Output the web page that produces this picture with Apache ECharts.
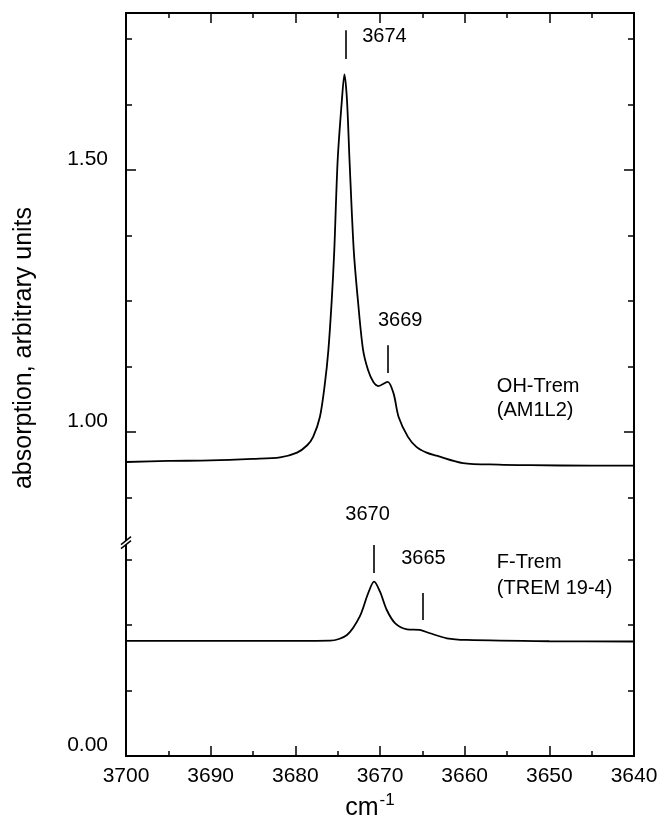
<!DOCTYPE html>
<html><head><meta charset="utf-8">
<script src="https://cdn.jsdelivr.net/npm/echarts@6/dist/echarts.min.js"></script>
<style>html,body{margin:0;padding:0;background:#fff}#c{width:658px;height:826px}</style>
</head><body><div id="c"></div>
<script>
// OH-Trem (AM1L2): [wavenumber cm-1, absorption]
const ohTrem = [
  [3700,0.943],[3695,0.945],[3690,0.946],[3685,0.949],[3681.8,0.952],[3679.8,0.961],
  [3678.6,0.975],[3677.9,0.991],[3677.1,1.029],[3676.5,1.094],[3676.1,1.156],[3675.7,1.252],
  [3675.4,1.347],[3675.0,1.519],[3674.5,1.634],[3674.2,1.683],[3673.9,1.634],[3673.6,1.519],
  [3673.1,1.347],[3672.6,1.250],[3672.0,1.157],[3671.4,1.118],[3670.8,1.096],
  [3670.2,1.088],[3669.1,1.096],[3668.4,1.074],[3667.8,1.029],[3666.7,0.991],[3665.7,0.972],
  [3664.5,0.961],[3663.3,0.955],[3660.2,0.941],[3656,0.938],[3652.3,0.937],[3645,0.936],[3640,0.936]
];
// F-Trem (TREM 19-4)
const fTrem = [
  [3700,0.2195],[3690,0.2195],[3680,0.2195],[3675.9,0.2200],[3673.9,0.2309],[3672.4,0.2658],
  [3671.4,0.3105],[3670.7,0.3326],[3670.0,0.3135],[3669.2,0.2786],[3668.2,0.2532],[3666.8,0.2418],
  [3665.3,0.2405],[3664.1,0.2342],[3662.1,0.2246],[3659.8,0.2214],[3650,0.2190],[3640,0.2185]
];
const xTicks = [3700,3690,3680,3670,3660,3650,3640];
// y axis (broken): upper segment and lower segment
const upperRange = [0.789, 1.8];
const lowerRange = [0, 0.407];
const upperMajor = [1.0, 1.5];
const upperMinor = [0.875, 1.125, 1.25, 1.375, 1.625, 1.75];
const lowerMajor = [0.0];
const lowerMinor = [0.125, 0.25, 0.375];
// peak annotations
const ohPeaks = [{text:'3674', x:3674.1, from:1.767, to:1.712, tx:3672.1, ty:1.756},
                 {text:'3669', x:3669.1, from:1.166, to:1.113, tx:3670.24, ty:1.213}];
const fPeaks  = [{text:'3670', x:3670.7, from:0.4027, to:0.349, tx:3674.1, ty:0.843, grid:0},
                 {text:'3665', x:3664.9, from:0.311, to:0.2595, tx:3667.5, ty:0.377, grid:1}];
const ohName = ['OH-Trem','(AM1L2)'];  const ohNameAt = [[3656.2,1.087],[3656.2,1.041]];
const fName = ['F-Trem','(TREM 19-4)']; const fNameAt = [[3656.2,0.369],[3656.2,0.320]];

const FONT = '"Liberation Sans", Arial, sans-serif';
const chart = echarts.init(document.getElementById('c'));
const axLine = {show:true, onZero:false, lineStyle:{color:'#000', width:2}};
function yAx(grid, range, pos, vals, len, labels){
  return {
    type:'value', gridIndex:grid, position:pos, min:range[0], max:range[1],
    axisLine:axLine, splitLine:{show:false},
    axisTick:{show:true, inside:true, length:len, customValues:vals, lineStyle:{color:'#000', width:1.5}},
    axisLabel:{show:labels, customValues:vals, fontFamily:FONT, fontSize:21, color:'#000', margin:18,
      verticalAlign:'bottom', lineHeight:22, formatter:v=>v.toFixed(2)}
  };
}
function xAx(grid, pos, labels){
  return {
    type:'value', gridIndex:grid, position:pos, min:3640, max:3700, interval:10, inverse:true,
    axisLine:axLine, splitLine:{show:false},
    axisTick:{show:true, inside:true, length:10, lineStyle:{color:'#000', width:1.5}},
    minorTick:{show:true, splitNumber:2, length:5, lineStyle:{color:'#000', width:1.5}},
    axisLabel:{show:labels, fontFamily:FONT, fontSize:21, color:'#000', margin:10,
      formatter:v=> xTicks.indexOf(v)>=0 ? String(v) : ''},
    name: labels ? '{a|cm}{b|-1}' : '',
    nameLocation:'middle', nameGap:36,
    nameTextStyle:{padding:[0,20,0,0], rich:{a:{fontFamily:FONT, fontSize:25, color:'#000', verticalAlign:'bottom'},
      b:{fontFamily:FONT, fontSize:17, color:'#000', verticalAlign:'bottom', padding:[0,0,12,1]}}}
  };
}
const segs = arr => arr.map(p=>[{coord:[p.x,p.from]},{coord:[p.x,p.to]}]);
const mlStyle = {symbol:'none', silent:true, label:{show:false}, lineStyle:{color:'#000', width:1.6, type:'solid'}};
chart.setOption({
  animation:false,
  grid:[
    {left:126, right:24, top:13, bottom:283.3, outerBoundsMode:'none', containLabel:false},
    {left:126, right:24, top:542.7, bottom:70, outerBoundsMode:'none', containLabel:false}
  ],
  xAxis:[xAx(0,'top',false), xAx(1,'bottom',true)],
  yAxis:[
    yAx(0, upperRange, 'left', upperMajor, 10, true),
    yAx(0, upperRange, 'left', upperMinor, 6, false),
    yAx(0, upperRange, 'right', upperMajor, 10, false),
    yAx(0, upperRange, 'right', upperMinor, 6, false),
    yAx(1, lowerRange, 'left', lowerMajor, 10, true),
    yAx(1, lowerRange, 'left', lowerMinor, 6, false),
    yAx(1, lowerRange, 'right', lowerMajor, 10, false),
    yAx(1, lowerRange, 'right', lowerMinor, 6, false)
  ],
  series:[
    {type:'line', xAxisIndex:0, yAxisIndex:0, data:ohTrem, showSymbol:false, smooth:0.3,
     lineStyle:{color:'#000', width:1.8}, markLine:Object.assign({data:segs(ohPeaks)}, mlStyle)},
    {type:'line', xAxisIndex:1, yAxisIndex:4, data:fTrem, showSymbol:false, smooth:0.3,
     lineStyle:{color:'#000', width:1.8}, markLine:Object.assign({data:segs(fPeaks)}, mlStyle)}
  ]
});
const g = [];
function txt(t, gi, at){
  const p = chart.convertToPixel({gridIndex:gi}, at);
  g.push({type:'text', x:p[0], y:p[1], style:{text:t, font:'20px '+FONT, fill:'#000', align:'left', verticalAlign:'middle'}});
}
ohPeaks.forEach(p=>txt(p.text, 0, [p.tx,p.ty]));
fPeaks.forEach(p=>txt(p.text, p.grid, [p.tx,p.ty]));
ohName.forEach((t,i)=>txt(t, 0, ohNameAt[i]));
fName.forEach((t,i)=>txt(t, 1, fNameAt[i]));
// y axis title
g.push({type:'text', x:24, y:348, rotation:Math.PI/2,
  style:{text:'absorption, arbitrary units', font:'25px '+FONT, fill:'#000', align:'center', verticalAlign:'middle'}});
// axis break marker
const bp = chart.convertToPixel({gridIndex:1}, [3700, lowerRange[1]]);
g.push({type:'polygon', shape:{points:[[bp[0]-5,bp[1]+6],[bp[0]+5,bp[1]-2],[bp[0]+5,bp[1]-6],[bp[0]-5,bp[1]+2]]}, style:{fill:'#fff'}, z:100});
g.push({type:'line', shape:{x1:bp[0]-5,y1:bp[1]+2,x2:bp[0]+5,y2:bp[1]-6}, style:{stroke:'#000', lineWidth:1.5}, z:101});
g.push({type:'line', shape:{x1:bp[0]-5,y1:bp[1]+6,x2:bp[0]+5,y2:bp[1]-2}, style:{stroke:'#000', lineWidth:1.5}, z:101});
chart.setOption({graphic:g});
</script></body></html>
